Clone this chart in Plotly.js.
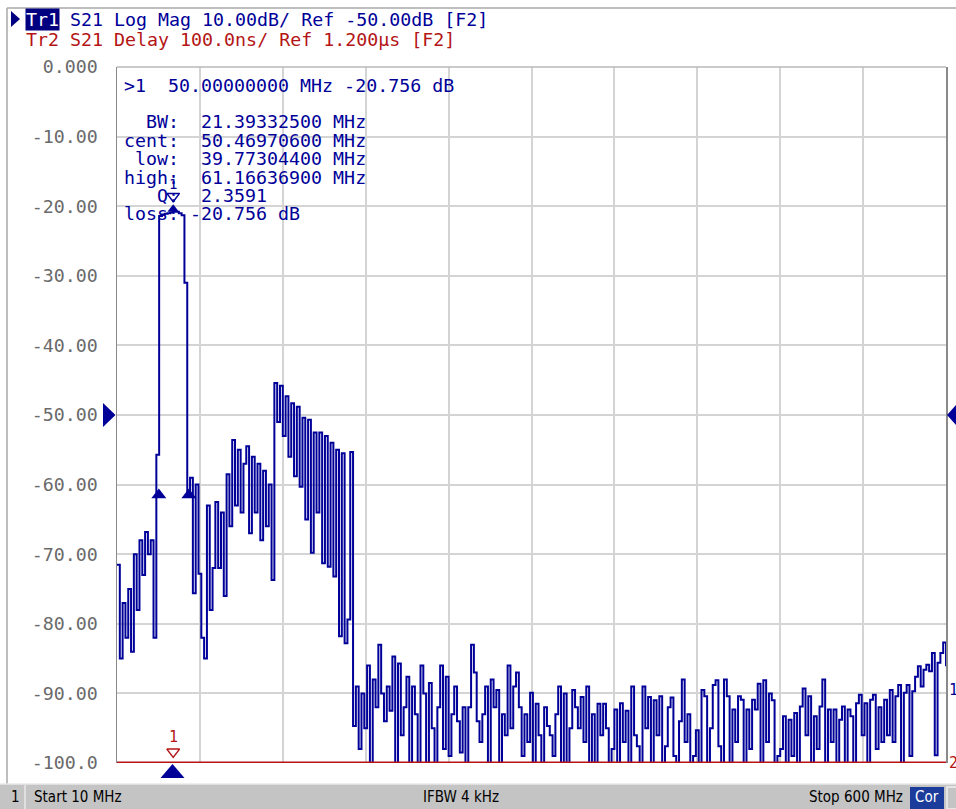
<!DOCTYPE html>
<html><head><meta charset="utf-8">
<script src="https://cdn.plot.ly/plotly-3.0.1.min.js"></script>
<style>html,body{margin:0;padding:0;background:#fff;}#chart{width:956px;height:809px;}</style>
</head><body><div id="chart"></div>
<script>
// ---- data ----
const START_MHZ = 10, STOP_MHZ = 600, STEP_MHZ = 2;
const tr1LogMag = [
 -71.5, -85, -77, -82, -75, -84, -70, -78, -68, -73,
 -66.8, -70, -68, -82, -55.7, -21.4, -21.2, -21.1, -21.0, -20.9,
 -20.756, -20.8, -21.0, -21.3, -31, -61, -59, -75.6, -60, -72.8,
 -82, -85, -63, -78, -72, -62.5, -72, -64, -76, -58.5,
 -66, -53.6, -63, -55, -64, -57, -54.5, -67, -56, -64,
 -57, -68, -58, -66, -60, -73.7, -45.4, -51, -45.8, -53,
 -47.3, -56, -48.3, -58.8, -48.8, -60.3, -50.4, -65, -50.7, -69.8,
 -52.5, -64, -52.5, -71.3, -53, -71.8, -54, -73.2, -55, -81.8,
 -55.5, -82.8, -79.4, -55.3, -94.7, -89, -98, -90, -95, -86,
 -100, -88, -92, -83, -90, -94, -89, -92.5, -84.7, -100,
 -85.7, -96, -92, -87.6, -101, -89, -93, -102, -86, -90,
 -100, -88.5, -95, -101, -92, -86, -98, -87.6, -99, -93,
 -89, -94, -98.5, -92, -101, -92, -83, -87, -94, -97,
 -93, -89, -100, -88, -92, -89.5, -100, -93, -96, -86,
 -95, -89, -87, -92, -99, -93, -97, -89.9, -100, -91.5,
 -96, -100, -92, -94.7, -96, -99, -93, -89, -100, -90,
 -100, -95, -89.5, -92, -95, -90.5, -97, -89, -100, -93,
 -100, -91.5, -96, -91.5, -95, -100, -98, -92.3, -100, -91.4,
 -97, -92.5, -100, -89, -96, -97.6, -100, -89, -95, -90.5,
 -100, -91, -96, -90.4, -100, -97.6, -92, -90.6, -99, -100,
 -94, -88, -97, -93, -100, -99, -95.3, -100, -89.5, -90.4,
 -100, -95, -88.8, -88.1, -97.6, -100, -88, -90.4, -100, -92.3,
 -97, -90.4, -90.9, -100, -92.3, -98, -90.9, -92.3, -88.6, -100,
 -88.1, -97, -90, -91, -100, -99, -98, -93.3, -100, -93.8,
 -99, -92.8, -100, -91.9, -89.3, -96, -90.4, -100, -93.3, -98,
 -91.9, -88, -100, -92.3, -97, -92.3, -100, -93.8, -91.9, -100,
 -92.3, -93.3, -100, -91.4, -90.2, -96, -91.4, -100, -90.9, -90.2,
 -98, -92, -97, -90.9, -96, -89.5, -97, -90.4, -88.8, -100,
 -89.9, -88.8, -99, -89.7, -87.6, -86.1, -89, -86.6, -85.9, -86.8,
 -84.2, -98.9, -85.6, -84.2, -82.7, -86.1
];
const tr2Freq = [10, 600];
const tr2Level = [-100, -100];
const yTickVals = [0, -10, -20, -30, -40, -50, -60, -70, -80, -90, -100];
const yTickText = ["0.000", "-10.00", "-20.00", "-30.00", "-40.00", "-50.00", "-60.00", "-70.00", "-80.00", "-90.00", "-100.0"];
const xGridVals = [10, 69, 128, 187, 246, 305, 364, 423, 482, 541, 600];
const marker1Freq = 50, marker1Val = -20.756;
const bwLowFreq = 39.773044, bwHighFreq = 61.166369, bwLevel = -60.756;
const header1a = "Tr1";
const header1b = "S21 Log Mag 10.00dB/ Ref -50.00dB [F2]";
const header2 = "Tr2 S21 Delay 100.0ns/ Ref 1.200\u00b5s [F2]";
const markerLines = [
  ">1  50.00000000 MHz -20.756 dB",
  "  BW:  21.39332500 MHz",
  "cent:  50.46970600 MHz",
  " low:  39.77304400 MHz",
  "high:  61.16636900 MHz",
  "   Q:  2.3591",
  "loss: -20.756 dB"
];
const statusStart = "Start 10 MHz", statusIfbw = "IFBW 4 kHz", statusStop = "Stop 600 MHz", statusCor = "Cor";

// ---- layout helpers ----
const L = 117, T = 67, W = 829, H = 696;
const PX = p => (p - L) / W;
const PY = p => (T + H - p) / H;
const nb = s => s.replace(/ /g, '\u00a0');
const BLUE = '#000099', RED = '#b41414', MONO = 'DejaVu Sans Mono, Liberation Mono, monospace';
const FS = 18.3;
const SANS = 'DejaVu Sans Condensed, Liberation Sans Narrow, DejaVu Sans, sans-serif';

const freq = tr1LogMag.map((_, i) => START_MHZ + i * STEP_MHZ);

const traces = [
  {x: freq, y: tr1LogMag, type: 'scatter', mode: 'lines', line: {color: BLUE, width: 2, shape: 'hv'}, hoverinfo: 'skip'},
  {x: tr2Freq, y: tr2Level, type: 'scatter', mode: 'lines', line: {color: RED, width: 3}, hoverinfo: 'skip'},
  {x: [bwLowFreq, bwHighFreq], y: [bwLevel - 0.75, bwLevel - 0.75], type: 'scatter', mode: 'markers',
   marker: {symbol: 'triangle-up', size: 13, color: BLUE}, cliponaxis: false, hoverinfo: 'skip'},
  {x: [marker1Freq], y: [marker1Val + 2.2], type: 'scatter', mode: 'markers',
   marker: {symbol: 'triangle-down-open', size: 11, color: BLUE, line: {width: 1.5, color: BLUE}}, cliponaxis: false, hoverinfo: 'skip'},
  {x: [marker1Freq], y: [marker1Val + 0.3], type: 'scatter', mode: 'markers',
   marker: {symbol: 'triangle-up', size: 10, color: BLUE}, cliponaxis: false, hoverinfo: 'skip'},
  {x: [marker1Freq], y: [tr2Level[0] + 1.6], type: 'scatter', mode: 'markers',
   marker: {symbol: 'triangle-down-open', size: 11, color: RED, line: {width: 1.5, color: RED}}, cliponaxis: false, hoverinfo: 'skip'}
];

const ann = [];
function addText(text, xp, yp, opts) {
  ann.push(Object.assign({xref: 'paper', yref: 'paper', x: PX(xp), y: PY(yp), xanchor: 'left', yanchor: 'middle',
    text: nb(text), showarrow: false, font: {family: MONO, size: FS, color: BLUE}, borderpad: 0}, opts || {}));
}
addText(header1a, 25, 19, {bgcolor: '#000080', font: {family: MONO, size: FS, color: '#ffffff'}});
addText(header1b, 69, 19);
addText(header2, 25, 39, {font: {family: MONO, size: FS, color: RED}});
const lineY = [85, 122, 140, 158, 177, 195, 213];
markerLines.forEach((t, i) => addText(t, 123, lineY[i]));
ann.push({xref: 'x', yref: 'y', x: marker1Freq, y: marker1Val + 4.0, text: '1', showarrow: false,
  font: {family: MONO, size: 14, color: BLUE}, xanchor: 'center', yanchor: 'middle'});
ann.push({xref: 'x', yref: 'y', x: marker1Freq, y: tr2Level[0] + 3.7, text: '1', showarrow: false,
  font: {family: MONO, size: 15, color: RED}, xanchor: 'center', yanchor: 'middle'});
ann.push({xref: 'paper', yref: 'y', x: 1, xshift: 1, y: -89.5, text: '1', showarrow: false, xanchor: 'left',
  font: {family: MONO, size: 15, color: BLUE}});
ann.push({xref: 'paper', yref: 'y', x: 1, xshift: 1, y: -100, text: '2', showarrow: false, xanchor: 'left',
  font: {family: MONO, size: 15, color: RED}});
function addStatus(text, xp, anchor, color) {
  ann.push({xref: 'paper', yref: 'paper', x: PX(xp), y: PY(797), xanchor: anchor, yanchor: 'middle', text: nb(text),
    showarrow: false, font: {family: SANS, size: 15, color: color || '#000'}});
}
addStatus('1', 15, 'center');
addStatus(statusStart, 32, 'left');
addStatus(statusIfbw, 461, 'center');
addStatus(statusStop, 905, 'right');
addStatus(statusCor, 927, 'center', '#ffffff');

function tri(points) {
  return 'M ' + points.map(p => PX(p[0]) + ',' + PY(p[1])).join(' L ') + ' Z';
}
const shapes = [
  {type: 'line', xref: 'paper', yref: 'paper', x0: PX(7), x1: PX(960), y0: PY(8), y1: PY(8), line: {color: '#a8a8a8', width: 1.5}},
  {type: 'line', xref: 'paper', yref: 'paper', x0: PX(7), x1: PX(7), y0: PY(8), y1: PY(784), line: {color: '#a8a8a8', width: 1.5}},
  {type: 'line', xref: 'paper', yref: 'paper', x0: 0, x1: 1, y0: 1, y1: 1, line: {color: '#b8b8b8', width: 1.5}},
  {type: 'rect', xref: 'paper', yref: 'paper', x0: PX(0), x1: PX(960), y0: PY(784), y1: PY(812), fillcolor: '#c4c4c4', line: {width: 0}, layer: 'below'},
  {type: 'line', xref: 'paper', yref: 'paper', x0: PX(0), x1: PX(960), y0: PY(784), y1: PY(784), line: {color: '#e8e8e8', width: 1.5}},
  {type: 'line', xref: 'paper', yref: 'paper', x0: PX(25), x1: PX(25), y0: PY(785), y1: PY(809), line: {color: '#e8e8e8', width: 1.5}},
  {type: 'rect', xref: 'paper', yref: 'paper', x0: PX(910), x1: PX(944), y0: PY(787), y1: PY(809), fillcolor: '#1c3c9c', line: {width: 0}},
  {type: 'rect', xref: 'paper', yref: 'paper', x0: PX(947), x1: PX(962), y0: PY(787), y1: PY(809), fillcolor: '#c4c4c4', line: {color: '#f0f0f0', width: 1.5}},
  {type: 'path', xref: 'paper', yref: 'paper', path: tri([[11, 11], [20, 19], [11, 27]]), fillcolor: '#000080', line: {width: 0}},
  {type: 'path', xref: 'paper', yref: 'paper', path: tri([[103, 403], [115.5, 415], [103, 427]]), fillcolor: BLUE, line: {width: 0}},
  {type: 'path', xref: 'paper', yref: 'paper', path: tri([[957, 404], [947, 415], [957, 426]]), fillcolor: BLUE, line: {width: 0}},
  // marker 1 stimulus indicator below the grid
  {type: 'path', xref: 'paper', yref: 'paper', path: tri([[160.5, 778], [172.5, 764], [184.5, 778]]), fillcolor: BLUE, line: {width: 0}}
];

const layout = {
  width: 956, height: 809,
  margin: {l: L, r: 956 - L - W, t: T, b: 809 - T - H, pad: 0},
  paper_bgcolor: '#ffffff', plot_bgcolor: '#ffffff',
  showlegend: false,
  xaxis: {range: [START_MHZ, STOP_MHZ], tickvals: xGridVals, showticklabels: false, ticks: '',
    showgrid: true, gridcolor: '#d4d4d4', gridwidth: 2, zeroline: false, showline: false, fixedrange: true},
  yaxis: {range: [-100, 0], tickvals: yTickVals, ticktext: yTickText, ticks: 'outside', ticklen: 14,
    tickcolor: 'rgba(0,0,0,0)', tickfont: {family: MONO, size: FS, color: '#6a6a6a'},
    showgrid: true, gridcolor: '#d4d4d4', gridwidth: 2, zeroline: false,
    showline: true, mirror: true, linecolor: '#8a8a8a', linewidth: 1.5, fixedrange: true},
  annotations: ann,
  shapes: shapes
};

Plotly.newPlot('chart', traces, layout, {staticPlot: true, displayModeBar: false});
</script>
</body></html>
